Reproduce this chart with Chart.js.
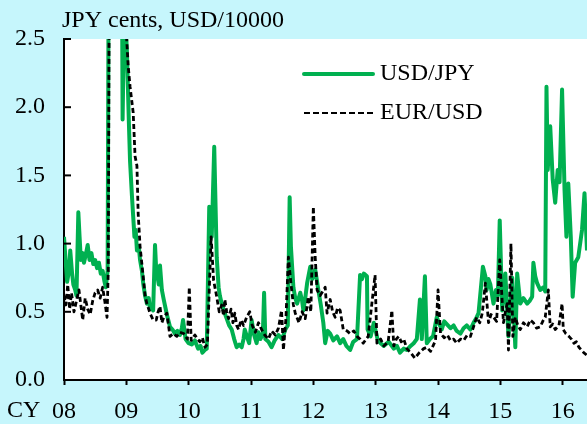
<!DOCTYPE html>
<html>
<head>
<meta charset="utf-8">
<script src="https://cdn.jsdelivr.net/npm/chart.js@4.4.0/dist/chart.umd.min.js"></script>
<style>
  body { margin: 0; background: #c6f6fc; }
  canvas { display: block; }
</style>
</head>
<body>
<canvas id="vol" width="587" height="424"></canvas>
<script>
// x positions are calendar years as decimals, one line per year
var usdJpyDates = [
  2008.00, 2008.03, 2008.05, 2008.08, 2008.10, 2008.13, 2008.15, 2008.18, 2008.20, 2008.23, 2008.25, 2008.27, 2008.30, 2008.32, 2008.35, 2008.38, 2008.41, 2008.44, 2008.47, 2008.50, 2008.53, 2008.56, 2008.59, 2008.62, 2008.65, 2008.67, 2008.70, 2008.72, 2008.85, 2008.93, 2008.94, 2008.97,
  2009.01, 2009.04, 2009.06, 2009.09, 2009.11, 2009.13, 2009.15, 2009.17, 2009.20, 2009.22, 2009.25, 2009.27, 2009.30, 2009.33, 2009.36, 2009.38, 2009.41, 2009.43, 2009.46, 2009.48, 2009.50, 2009.52, 2009.54, 2009.57, 2009.60, 2009.65, 2009.70, 2009.74, 2009.78, 2009.82, 2009.86, 2009.89, 2009.91, 2009.95,
  2010.00, 2010.05, 2010.10, 2010.15, 2010.19, 2010.22, 2010.26, 2010.29, 2010.33, 2010.37, 2010.41, 2010.45, 2010.48, 2010.50, 2010.53, 2010.57, 2010.61, 2010.65, 2010.69, 2010.73, 2010.77, 2010.81, 2010.85, 2010.88, 2010.90, 2010.94, 2010.97,
  2011.01, 2011.05, 2011.09, 2011.12, 2011.15, 2011.19, 2011.21, 2011.23, 2011.28, 2011.33, 2011.38, 2011.44, 2011.50, 2011.55, 2011.59, 2011.62, 2011.64, 2011.68, 2011.71, 2011.74, 2011.79, 2011.82, 2011.84, 2011.87, 2011.90, 2011.95, 2011.98,
  2012.00, 2012.03, 2012.06, 2012.08, 2012.12, 2012.16, 2012.19, 2012.23, 2012.27, 2012.32, 2012.38, 2012.43, 2012.48, 2012.53, 2012.59, 2012.64, 2012.70, 2012.75, 2012.78, 2012.81, 2012.86, 2012.87, 2012.92, 2012.97,
  2013.03, 2013.08, 2013.13, 2013.21, 2013.29, 2013.34, 2013.39, 2013.45, 2013.50, 2013.56, 2013.61, 2013.66, 2013.71, 2013.74, 2013.79, 2013.82, 2013.87, 2013.92, 2013.98,
  2014.03, 2014.06, 2014.10, 2014.14, 2014.20, 2014.25, 2014.30, 2014.36, 2014.41, 2014.46, 2014.52, 2014.57, 2014.61, 2014.65, 2014.72, 2014.76, 2014.78, 2014.81, 2014.84, 2014.89, 2014.93, 2014.96, 2014.99,
  2015.03, 2015.08, 2015.13, 2015.19, 2015.24, 2015.27, 2015.32, 2015.37, 2015.43, 2015.47, 2015.51, 2015.53, 2015.56, 2015.59, 2015.64, 2015.69, 2015.72, 2015.74, 2015.76, 2015.80, 2015.84, 2015.88, 2015.92, 2015.95, 2015.99,
  2016.03, 2016.06, 2016.09, 2016.13, 2016.16, 2016.20, 2016.25, 2016.31, 2016.35, 2016.39
];
var usdJpyValues = [
  1.05, 0.85, 0.72, 0.80, 0.95, 0.78, 0.70, 0.66, 0.62, 1.23, 1.05, 0.88, 0.93, 0.86, 0.92, 0.99, 0.88, 0.93, 0.85, 0.88, 0.82, 0.86, 0.78, 0.80, 0.72, 0.68, 0.80, 3.50, 4.00, 3.00, 1.91, 2.80,
  2.40, 1.90, 1.60, 1.35, 1.20, 1.05, 1.10, 0.95, 0.98, 0.88, 0.80, 0.71, 0.62, 0.56, 0.60, 0.52, 0.55, 0.51, 0.99, 0.80, 0.76, 0.70, 0.84, 0.66, 0.59, 0.48, 0.39, 0.37, 0.34, 0.36, 0.33, 0.38, 0.44, 0.30,
  0.27, 0.26, 0.29, 0.23, 0.25, 0.20, 0.22, 0.23, 1.27, 1.05, 1.71, 0.90, 0.68, 0.62, 0.56, 0.50, 0.45, 0.40, 0.37, 0.30, 0.24, 0.26, 0.24, 0.30, 0.37, 0.31, 0.27,
  0.44, 0.33, 0.27, 0.35, 0.30, 0.34, 0.64, 0.30, 0.28, 0.24, 0.29, 0.33, 0.30, 0.37, 0.40, 1.34, 0.98, 0.68, 0.60, 0.56, 0.64, 0.58, 0.51, 0.60, 0.71, 0.83, 0.74,
  0.76, 0.81, 0.72, 0.66, 0.55, 0.42, 0.27, 0.36, 0.34, 0.29, 0.32, 0.27, 0.30, 0.25, 0.22, 0.28, 0.30, 0.77, 0.74, 0.78, 0.76, 0.37, 0.32, 0.42,
  0.30, 0.27, 0.25, 0.28, 0.23, 0.25, 0.20, 0.23, 0.22, 0.25, 0.27, 0.30, 0.59, 0.30, 0.76, 0.27, 0.30, 0.32, 0.46,
  0.40, 0.37, 0.43, 0.41, 0.38, 0.40, 0.36, 0.34, 0.38, 0.40, 0.37, 0.42, 0.45, 0.49, 0.83, 0.76, 0.66, 0.74, 0.70, 0.56, 0.66, 0.62, 1.17,
  0.51, 0.78, 0.32, 0.75, 0.24, 0.78, 0.56, 0.60, 0.56, 0.58, 0.61, 0.86, 0.76, 0.71, 0.66, 0.68, 0.65, 2.15, 1.54, 1.86, 1.47, 1.30, 1.54, 1.45, 2.13,
  1.39, 1.05, 1.44, 1.05, 0.61, 0.86, 0.90, 1.10, 1.37, 0.95
];
var eurUsdDates = [
  2008.00, 2008.03, 2008.06, 2008.09, 2008.12, 2008.16, 2008.20, 2008.24, 2008.27, 2008.30, 2008.34, 2008.38, 2008.42, 2008.46, 2008.50, 2008.54, 2008.58, 2008.62, 2008.66, 2008.69, 2008.71, 2008.73, 2008.85, 2008.98,
  2009.03, 2009.06, 2009.11, 2009.14, 2009.17, 2009.19, 2009.22, 2009.27, 2009.30, 2009.33, 2009.38, 2009.43, 2009.48, 2009.51, 2009.54, 2009.57, 2009.60, 2009.65, 2009.70, 2009.75, 2009.81, 2009.86, 2009.92, 2009.98,
  2010.01, 2010.04, 2010.10, 2010.14, 2010.18, 2010.22, 2010.26, 2010.30, 2010.36, 2010.40, 2010.45, 2010.49, 2010.53, 2010.56, 2010.58, 2010.61, 2010.64, 2010.68, 2010.71, 2010.74, 2010.77, 2010.80, 2010.84, 2010.88, 2010.93, 2010.98,
  2011.02, 2011.07, 2011.12, 2011.17, 2011.22, 2011.28, 2011.33, 2011.39, 2011.44, 2011.49, 2011.52, 2011.56, 2011.60, 2011.64, 2011.68, 2011.71, 2011.77, 2011.82, 2011.87, 2011.92, 2011.96,
  2012.00, 2012.03, 2012.06, 2012.11, 2012.19, 2012.22, 2012.27, 2012.31, 2012.35, 2012.39, 2012.43, 2012.48, 2012.54, 2012.59, 2012.65, 2012.70, 2012.75, 2012.80, 2012.88, 2012.99,
  2013.02, 2013.08, 2013.13, 2013.20, 2013.26, 2013.29, 2013.33, 2013.37, 2013.41, 2013.45, 2013.50, 2013.56, 2013.63, 2013.70, 2013.77, 2013.82, 2013.88, 2013.96,
  2014.00, 2014.04, 2014.10, 2014.15, 2014.20, 2014.25, 2014.30, 2014.36, 2014.41, 2014.47, 2014.52, 2014.57, 2014.62, 2014.67, 2014.71, 2014.76, 2014.81, 2014.85, 2014.89, 2014.94, 2014.99,
  2015.05, 2015.08, 2015.11, 2015.13, 2015.17, 2015.20, 2015.24, 2015.28, 2015.32, 2015.37, 2015.43, 2015.48, 2015.53, 2015.58, 2015.64, 2015.68, 2015.72, 2015.77, 2015.80, 2015.84, 2015.88, 2015.94, 2015.99,
  2016.01, 2016.05, 2016.10, 2016.14, 2016.18, 2016.22, 2016.26, 2016.30, 2016.34, 2016.39
];
var eurUsdValues = [
  0.62, 0.55, 0.70, 0.52, 0.64, 0.50, 0.58, 0.66, 0.55, 0.44, 0.60, 0.52, 0.48, 0.58, 0.64, 0.66, 0.60, 0.68, 0.56, 0.46, 0.80, 3.50, 4.00, 2.70,
  2.30, 2.15, 1.96, 1.64, 1.57, 1.22, 0.98, 0.76, 0.62, 0.56, 0.49, 0.44, 0.44, 0.50, 0.54, 0.42, 0.46, 0.49, 0.32, 0.34, 0.32, 0.35, 0.34, 0.30,
  0.68, 0.29, 0.33, 0.30, 0.28, 0.31, 0.24, 0.26, 1.05, 0.73, 0.61, 0.50, 0.55, 0.47, 0.59, 0.50, 0.45, 0.52, 0.42, 0.49, 0.40, 0.37, 0.44, 0.40, 0.46, 0.50,
  0.40, 0.35, 0.42, 0.37, 0.33, 0.30, 0.36, 0.33, 0.38, 0.51, 0.22, 0.45, 0.90, 0.71, 0.55, 0.49, 0.42, 0.50, 0.45, 0.61, 0.50,
  1.27, 0.90, 0.66, 0.62, 0.68, 0.49, 0.59, 0.50, 0.46, 0.53, 0.51, 0.37, 0.36, 0.34, 0.36, 0.32, 0.30, 0.27, 0.32, 0.77,
  0.27, 0.30, 0.25, 0.28, 0.51, 0.25, 0.30, 0.32, 0.28, 0.30, 0.23, 0.20, 0.16, 0.20, 0.23, 0.24, 0.21, 0.29,
  0.66, 0.34, 0.31, 0.33, 0.29, 0.30, 0.27, 0.30, 0.29, 0.33, 0.32, 0.39, 0.46, 0.42, 0.49, 0.71, 0.42, 0.48, 0.46, 0.43, 0.88,
  0.42, 0.50, 0.56, 0.22, 1.00, 0.32, 0.46, 0.40, 0.37, 0.42, 0.39, 0.44, 0.42, 0.38, 0.39, 0.43, 0.46, 0.66, 0.39, 0.41, 0.37, 0.40, 0.56,
  0.37, 0.34, 0.32, 0.30, 0.27, 0.28, 0.24, 0.22, 0.20, 0.18
];
var yearTicks = [2008, 2009, 2010, 2011, 2012, 2013, 2014, 2015, 2016];
var yearLabels = ['08', '09', '10', '11', '12', '13', '14', '15', '16'];
var seriesNames = ['USD/JPY', 'EUR/USD'];

var serif = 'Liberation Serif, Times New Roman, serif';
var fontSize = 24;

function toPoints(xs, ys) {
    return xs.map(function(x, i) { return { x: x, y: ys[i] }; });
}

// cyan page, white plot area, inside y ticks, legend, title and "CY"
var decorations = {
    id: 'decorations',
    beforeDraw: function(chart) {
        var c = chart.ctx, a = chart.chartArea;
        c.save();
        c.fillStyle = '#c6f6fc';
        c.fillRect(0, 0, chart.width, chart.height);
        c.fillStyle = '#ffffff';
        c.fillRect(a.left, a.top, a.right - a.left, a.bottom - a.top);
        c.restore();
    },
    afterDraw: function(chart) {
        var c = chart.ctx, a = chart.chartArea;
        var ys = chart.scales.y;
        c.save();
        c.strokeStyle = '#000';
        c.lineWidth = 2;
        ys.ticks.forEach(function(t) {
            var py = ys.getPixelForValue(t.value);
            c.beginPath();
            c.moveTo(a.left, py);
            c.lineTo(a.left + 7, py);
            c.stroke();
        });

        c.font = fontSize + 'px ' + serif;
        c.fillStyle = '#000';
        c.textBaseline = 'middle';
        c.textAlign = 'left';
        c.fillText('JPY cents, USD/10000', a.left - 2, 21);
        c.fillText('CY', 7, 411);

        // legend
        var lx = a.left + 240, ly = a.top + 35;
        c.lineCap = 'round';
        c.strokeStyle = '#00b050';
        c.lineWidth = 4;
        c.beginPath(); c.moveTo(lx, ly); c.lineTo(lx + 69, ly); c.stroke();
        c.lineCap = 'butt';
        c.strokeStyle = '#000';
        c.lineWidth = 2;
        c.setLineDash([6, 3]);
        c.beginPath(); c.moveTo(lx, ly + 39); c.lineTo(lx + 69, ly + 39); c.stroke();
        c.setLineDash([]);
        c.fillText(seriesNames[0], lx + 76, ly);
        c.fillText(seriesNames[1], lx + 76, ly + 39);
        c.restore();
    }
};

var ctx = document.getElementById('vol').getContext('2d');
window.volChart = new Chart(ctx, {
    type: 'line',
    data: {
        datasets: [{
            label: seriesNames[1],
            data: toPoints(eurUsdDates, eurUsdValues),
            borderColor: '#000000',
            borderWidth: 2.8,
            borderDash: [5, 3],
            order: 0
        }, {
            label: seriesNames[0],
            data: toPoints(usdJpyDates, usdJpyValues),
            borderColor: '#00b050',
            borderWidth: 4,
            order: 1
        }]
    },
    options: {
        responsive: false,
        animation: false,
        devicePixelRatio: 1,
        layout: { padding: { top: 39, left: 0, right: 0, bottom: 0 } },
        elements: {
            point: { radius: 0 },
            line: { tension: 0, borderJoinStyle: 'round', fill: false }
        },
        datasets: { line: { clip: { left: 0, top: 0, right: 0, bottom: 0 } } },
        plugins: {
            legend: { display: false },
            title: { display: false },
            tooltip: { enabled: false }
        },
        scales: {
            x: {
                type: 'linear',
                min: 2008,
                max: 2016.39,
                afterBuildTicks: function(scale) {
                    scale.ticks = yearTicks.map(function(v) { return { value: v }; });
                },
                afterFit: function(scale) { scale.height = 44; },
                border: { display: true, color: '#000', width: 2 },
                grid: { drawOnChartArea: false, drawTicks: true, tickLength: 5, tickColor: '#000', tickWidth: 2 },
                ticks: {
                    autoSkip: false,
                    maxRotation: 0,
                    padding: 12,
                    color: '#000',
                    font: { family: serif, size: fontSize },
                    callback: function(v) {
                        var i = yearTicks.indexOf(v);
                        return i < 0 ? '' : yearLabels[i];
                    }
                }
            },
            y: {
                min: 0,
                max: 2.5,
                afterFit: function(scale) { scale.width = 64; },
                border: { display: true, color: '#000', width: 2 },
                grid: { drawOnChartArea: false, drawTicks: false },
                ticks: {
                    stepSize: 0.5,
                    padding: 19,
                    color: '#000',
                    font: { family: serif, size: fontSize },
                    callback: function(v) { return v.toFixed(1); }
                }
            }
        }
    },
    plugins: [decorations]
});
</script>
</body>
</html>
